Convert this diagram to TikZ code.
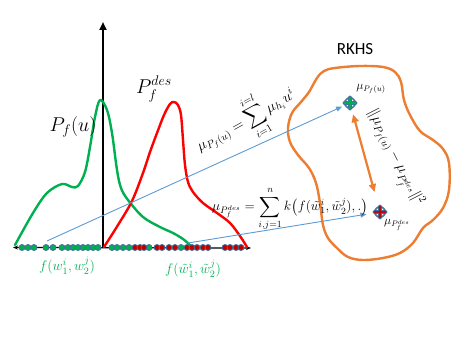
\RequirePackage{fix-cm}
\documentclass[tikz,border=0pt]{standalone}
\usepackage[no-math]{fontspec}
\setmainfont{Carlito}
\usepackage{amsmath}
\usetikzlibrary{arrows.meta}
\definecolor{cgreen}{HTML}{00B050}
\definecolor{cred}{HTML}{FF0000}
\definecolor{cdred}{HTML}{C00000}
\definecolor{cedge}{HTML}{41719C}
\definecolor{cblue}{HTML}{5B9BD5}
\definecolor{corange}{HTML}{ED7D31}
\tikzset{
  movecross/.pic={
    \filldraw[draw=cedge, line width=1pt, line join=miter]
      (0,7) -- (3.5,3.8) -- (1.4,3.8) -- (1.4,1.4) -- (3.8,1.4) -- (3.8,3.5) -- (7,0)
      -- (3.8,-3.5) -- (3.8,-1.4) -- (1.4,-1.4) -- (1.4,-3.8) -- (3.5,-3.8) -- (0,-7)
      -- (-3.5,-3.8) -- (-1.4,-3.8) -- (-1.4,-1.4) -- (-3.8,-1.4) -- (-3.8,-3.5) -- (-7,0)
      -- (-3.8,3.5) -- (-3.8,1.4) -- (-1.4,1.4) -- (-1.4,3.8) -- (-3.5,3.8) -- cycle;
  }
}
\begin{document}
\begin{tikzpicture}[x=1pt, y=-1pt,
  curve/.style={line width=2.4pt, line join=round, line cap=round},
  dotg/.style={draw=cedge, fill=cgreen, line width=0.8pt},
  dotr/.style={draw=cedge, fill=cdred, line width=0.8pt},
  embed/.style={cblue, line width=0.9pt, -{Triangle[length=6pt,width=5pt]}},
  hub/.style={circle, minimum size=15pt, inner sep=0pt},
  lbl/.style={inner sep=1pt}]
  \useasboundingbox (0,0) rectangle (455,337);
  % axes
  \draw[line width=1.2pt, {Stealth[length=5pt,width=4pt]}-{Stealth[length=5pt,width=4pt]}] (13,247.5) -- (251,248);
  \draw[line width=2.4pt, -{Triangle[length=8pt,width=7pt]}] (103,248) -- (103,22);
  % densities
  \draw[curve, cgreen] plot[smooth, tension=0.55] coordinates {(15,245) (33,213) (47,193) (62,184) (72,187) (78,186) (85,172) (90,147) (95,117) (100,100) (107,110) (112,133) (117,170) (121,188) (128,200) (143,217) (160,227) (173,233) (183,239) (190,245)};
  \draw[curve, cred] plot[smooth, tension=0.55] coordinates {(104,247) (118,225) (132,201) (143,173) (150,152) (157,133) (164,115) (170,104) (174,102) (178,105) (181,115) (183,140) (185,165) (188,182) (193,192) (203,203) (217,213) (230,223) (240,236) (247,247)};
  % samples on the axis
  \foreach \x in {22,28,34,46,53,62,68,73,78,83,88,93,98,112,117,123,129,149,181}
    \filldraw[dotg] (\x,247.5) circle (3pt);
  \foreach \x in {135,140,144,157,162,169,175,187,192,197,203,208,225,230,236,241}
    \filldraw[dotr] (\x,247.5) circle (3pt);
  \node[lbl, text=cgreen, font=\fontsize{14}{17}\selectfont] (wlab) at (67,266) {$f(w_1^i,w_2^j)$};
  \node[lbl, text=cgreen, font=\fontsize{14}{17}\selectfont] (wtlab) at (193,269) {$f(\tilde{w}_1^i,\tilde{w}_2^j)$};
  \node[lbl, font=\fontsize{20}{24}\selectfont] (pfu) at (73,127) {$P_f(u)$};
  \node[lbl, font=\fontsize{20}{24}\selectfont] (pdes) at (154,89) {$P_f^{des}$};
  % RKHS region
  \draw[corange, line width=2.4pt] plot[smooth cycle, tension=0.6] coordinates {(335,68) (360,66) (383,67) (395,72) (401,82) (404,100) (410,115) (420,131) (433,140) (443,149) (449,163) (449,190) (443,208) (433,220) (423,228) (413,243) (400,253) (383,258) (363,260) (348,257) (337,248) (328,238) (323,225) (320,203) (316,183) (309,168) (298,155) (290,142) (288,128) (292,113) (301,102) (309,92) (317,78) (324,71)};
  \node[font=\fontsize{17}{20}\selectfont] (rkhs) at (355,49) {RKHS};
  % mean embeddings
  \node[hub] (mpf) at (350,103) {};
  \node[hub] (mpdes) at (380,212) {};
  \pic[fill=cgreen] at (mpf) {movecross};
  \pic[fill=cdred] at (mpdes) {movecross};
  \node[lbl, font=\fontsize{12}{14}\selectfont] (lpf) at (371,89) {$\mu_{P_f(u)}$};
  \node[lbl, font=\fontsize{12}{14}\selectfont] (lpdes) at (397,225) {$\mu_{P_f^{des}}$};
  \coordinate (wsrc) at (47,241);
  \coordinate (wtsrc) at (188,243);
  \draw[embed, shorten >=1pt] (wsrc) -- (mpf);
  \draw[embed, shorten >=6pt] (wtsrc) -- (mpdes);
  \draw[corange, line width=2.2pt, {Triangle[length=8pt,width=7pt]}-{Triangle[length=8pt,width=7pt]}, shorten <=4pt, shorten >=13pt] (mpf) -- (mpdes);
  \node[lbl, font=\fontsize{15}{18}\selectfont, rotate=29] (eqpf) at (246,121) {$\displaystyle \mu_{P_f(u)} = \sum_{i=1}^{i=l} \mu_{h_i} u^i$};
  \node[lbl, font=\fontsize{13.5}{16}\selectfont] (eqpdes) at (290,209) {$\displaystyle \mu_{P_f^{des}} = \sum_{i,j=1}^{n} k\bigl(f(\tilde{w}_1^i,\tilde{w}_2^j),.\bigr)$};
  \node[lbl, font=\fontsize{15}{18}\selectfont, rotate=-63] (dist) at (394,158) {$\|\mu_{P_f(u)} - \mu_{P_f^{des}}\|^2$};
\end{tikzpicture}
\end{document}
